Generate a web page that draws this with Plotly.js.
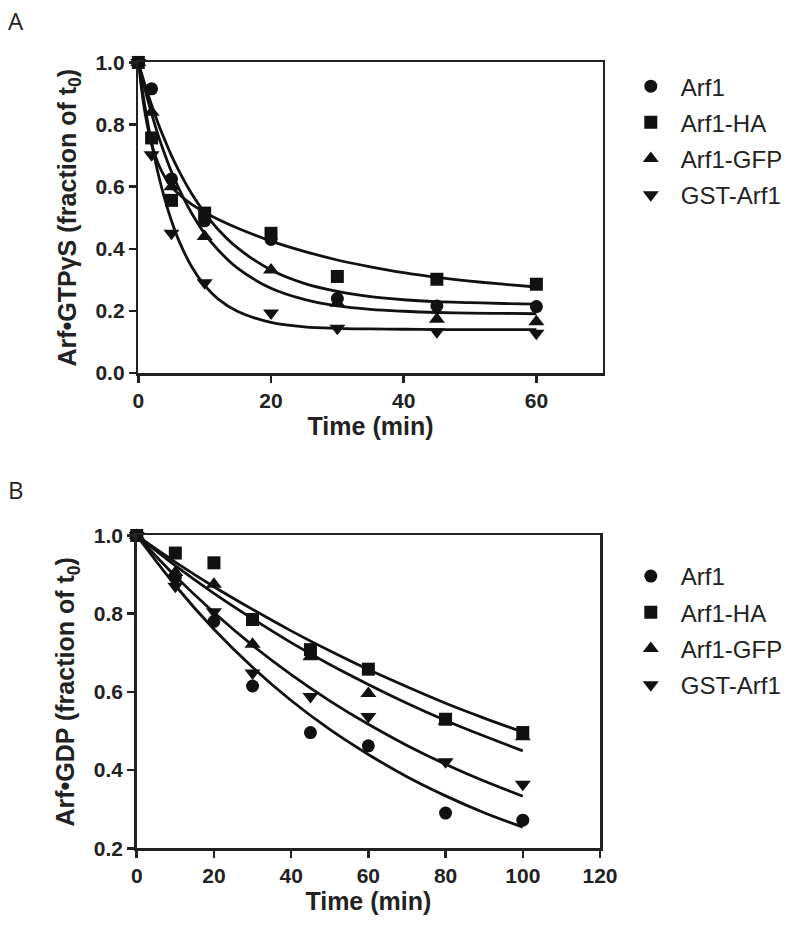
<!DOCTYPE html>
<html>
<head>
<meta charset="utf-8">
<script src="https://cdn.plot.ly/plotly-3.0.1.min.js"></script>
<style>
  html, body { margin: 0; padding: 0; background: #fff; }
  #chart { width: 800px; height: 928px; }
</style>
</head>
<body>
<div id="chart"></div>
<script>
// Panel A: Arf-GTPgammaS decay
const timeA = [0, 2, 5, 10, 20, 30, 45, 60];
const arf1A = [1.0, 0.915, 0.625, 0.49, 0.43, 0.24, 0.216, 0.214];
const arf1HaA = [1.0, 0.757, 0.556, 0.515, 0.45, 0.311, 0.302, 0.286];
const arf1GfpA = [1.0, 0.84, 0.60, 0.44, 0.332, 0.225, 0.173, 0.165];
const gstArf1A = [1.0, 0.703, 0.45, 0.291, 0.193, 0.144, 0.133, 0.128];

// fitted curves, panel A
const fitTimeA = [0, 1, 2, 3, 4, 5, 6, 8, 10, 12, 15, 20, 25, 30, 35, 40, 45, 50, 55, 60];
const fitArf1A = [1.0, 0.928, 0.863, 0.803, 0.750, 0.700, 0.656, 0.579, 0.516, 0.463, 0.402, 0.332, 0.289, 0.263, 0.246, 0.236, 0.230, 0.227, 0.224, 0.222];
const fitHaA = [1.0, 0.839, 0.738, 0.674, 0.631, 0.600, 0.578, 0.544, 0.518, 0.495, 0.466, 0.425, 0.392, 0.364, 0.342, 0.323, 0.308, 0.296, 0.286, 0.277];
const fitGfpA = [1.0, 0.913, 0.835, 0.765, 0.704, 0.648, 0.599, 0.516, 0.449, 0.397, 0.337, 0.273, 0.237, 0.216, 0.205, 0.199, 0.195, 0.193, 0.192, 0.191];
const fitGstA = [1.0, 0.858, 0.740, 0.641, 0.559, 0.490, 0.432, 0.344, 0.282, 0.239, 0.198, 0.163, 0.149, 0.144, 0.142, 0.141, 0.140, 0.140, 0.140, 0.140];

// Panel B: Arf-GDP decay
const timeB = [0, 10, 20, 30, 45, 60, 80, 100];
const arf1B = [1.0, 0.893, 0.78, 0.615, 0.496, 0.462, 0.29, 0.272];
const arf1HaB = [1.0, 0.955, 0.93, 0.785, 0.708, 0.658, 0.53, 0.496];
const arf1GfpB = [1.0, 0.905, 0.875, 0.722, 0.69, 0.596, 0.525, 0.485];
const gstArf1B = [1.0, 0.87, 0.805, 0.648, 0.588, 0.537, 0.421, 0.364];

const fitTimeB = [0, 10, 20, 30, 40, 50, 60, 70, 80, 90, 100];
const fitArf1B = [1.0, 0.872, 0.760, 0.663, 0.578, 0.504, 0.440, 0.383, 0.334, 0.291, 0.254];
const fitHaB = [1.0, 0.932, 0.869, 0.811, 0.756, 0.705, 0.657, 0.613, 0.571, 0.533, 0.497];
const fitGfpB = [1.0, 0.923, 0.852, 0.787, 0.726, 0.670, 0.619, 0.571, 0.527, 0.487, 0.449];
const fitGstB = [1.0, 0.896, 0.803, 0.719, 0.644, 0.577, 0.517, 0.463, 0.415, 0.372, 0.333];

const seriesNames = ['Arf1', 'Arf1-HA', 'Arf1-GFP', 'GST-Arf1'];
const symbols = ['circle', 'square', 'triangle-up', 'triangle-down'];

const FONT = 'Liberation Sans, Arial, sans-serif';
const markerSize = [13, 13, 14, 14];

function fitTrace(x, y, xa, ya) {
    return {
        x: x, y: y, xaxis: xa, yaxis: ya,
        type: 'scatter', mode: 'lines',
        line: { color: '#111', width: 2.8, shape: 'spline' },
        showlegend: false, hoverinfo: 'skip'
    };
}

function pointTrace(x, y, i, xa, ya, legend) {
    return {
        x: x, y: y, xaxis: xa, yaxis: ya,
        type: 'scatter', mode: 'markers',
        name: seriesNames[i],
        legend: legend,
        legendgroup: legend + i,
        marker: { symbol: symbols[i], size: markerSize[i], color: '#111' },
        cliponaxis: false
    };
}

const data = [
    fitTrace(fitTimeA, fitHaA, 'x', 'y'),
    fitTrace(fitTimeA, fitArf1A, 'x', 'y'),
    fitTrace(fitTimeA, fitGfpA, 'x', 'y'),
    fitTrace(fitTimeA, fitGstA, 'x', 'y'),
    pointTrace(timeA, arf1A, 0, 'x', 'y', 'legend'),
    pointTrace(timeA, arf1HaA, 1, 'x', 'y', 'legend'),
    pointTrace(timeA, arf1GfpA, 2, 'x', 'y', 'legend'),
    pointTrace(timeA, gstArf1A, 3, 'x', 'y', 'legend'),

    fitTrace(fitTimeB, fitHaB, 'x2', 'y2'),
    fitTrace(fitTimeB, fitGfpB, 'x2', 'y2'),
    fitTrace(fitTimeB, fitGstB, 'x2', 'y2'),
    fitTrace(fitTimeB, fitArf1B, 'x2', 'y2'),
    pointTrace(timeB, arf1B, 0, 'x2', 'y2', 'legend2'),
    pointTrace(timeB, arf1HaB, 1, 'x2', 'y2', 'legend2'),
    pointTrace(timeB, arf1GfpB, 2, 'x2', 'y2', 'legend2'),
    pointTrace(timeB, gstArf1B, 3, 'x2', 'y2', 'legend2')
];

const tickFont = { family: FONT, size: 21, color: '#222', weight: 'bold' };
const titleFont = { family: FONT, size: 25, color: '#222', weight: 'bold' };

function xAxis(domain, range, anchor) {
    return {
        domain: domain, range: range, anchor: anchor, dtick: 20,
        showgrid: false, zeroline: false,
        showline: true, mirror: true, linecolor: '#222', linewidth: 2.5,
        ticks: 'outside', ticklen: 7, tickwidth: 2.5, tickcolor: '#222',
        tickfont: tickFont,
        title: { text: 'Time (min)', font: titleFont, standoff: 2 },
        automargin: false
    };
}

function yAxis(domain, range, anchor, title) {
    return {
        domain: domain, range: range, anchor: anchor, dtick: 0.2, tickformat: '.1f',
        showgrid: false, zeroline: false,
        showline: true, mirror: true, linecolor: '#222', linewidth: 2.5,
        ticks: 'outside', ticklen: 7, tickwidth: 2.5, tickcolor: '#222',
        tickfont: tickFont,
        title: { text: title, font: titleFont, standoff: 12 },
        automargin: false
    };
}

const legendCommon = {
    xanchor: 'left', yanchor: 'top',
    font: { family: FONT, size: 24, color: '#222' },
    bgcolor: 'rgba(0,0,0,0)', borderwidth: 0,
    traceorder: 'grouped', tracegroupgap: 2, itemwidth: 50
};

const layout = {
    width: 800, height: 928,
    margin: { l: 0, r: 0, t: 0, b: 0 },
    paper_bgcolor: '#fff', plot_bgcolor: '#fff',
    font: { family: FONT, color: '#222' },
    xaxis: xAxis([0.1729, 0.7534], [0, 70], 'y'),
    yaxis: yAxis([0.598, 0.9327], [0, 1.0], 'x', 'Arf\u2022GTP\u03b3S (fraction of t<sub>0</sub>)'),
    xaxis2: xAxis([0.1709, 0.75], [0, 120], 'y2'),
    yaxis2: yAxis([0.0859, 0.4230], [0.2, 1.0], 'x2', 'Arf\u2022GDP (fraction of t<sub>0</sub>)'),
    legend: Object.assign({ x: 0.776, y: 0.931 }, legendCommon),
    legend2: Object.assign({ x: 0.776, y: 0.403 }, legendCommon),
    annotations: [
        { text: 'A', xref: 'paper', yref: 'paper', x: 0.008, y: 0.998, xanchor: 'left', yanchor: 'top',
          showarrow: false, font: { family: 'Open Sans, DejaVu Sans, sans-serif', size: 24, color: '#222' } },
        { text: 'B', xref: 'paper', yref: 'paper', x: 0.008, y: 0.4925, xanchor: 'left', yanchor: 'top',
          showarrow: false, font: { family: 'Open Sans, DejaVu Sans, sans-serif', size: 24, color: '#222' } }
    ]
};

Plotly.newPlot('chart', data, layout, { displayModeBar: false, staticPlot: true });
</script>
</body>
</html>
